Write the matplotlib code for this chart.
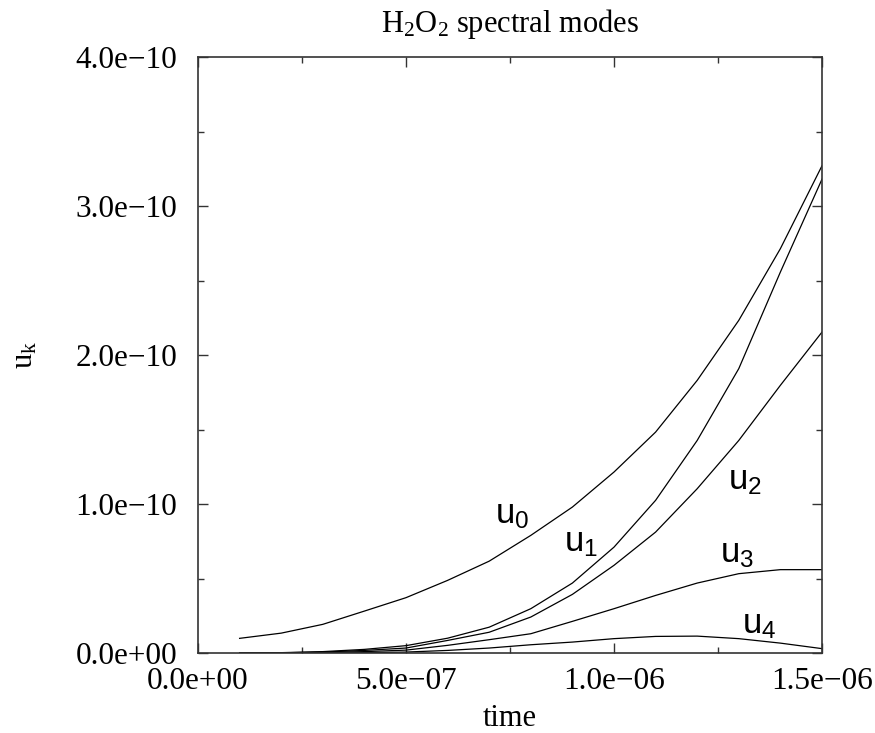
import numpy as np
import matplotlib
matplotlib.use("Agg")
import matplotlib.pyplot as plt
from matplotlib.ticker import FixedLocator, FuncFormatter

# ---------------- data ----------------
time = np.array([1, 2, 3, 4, 5, 6, 7, 8, 9, 10, 11, 12, 13, 14, 15]) * 1e-7

u0 = np.array([0.099, 0.134, 0.193, 0.282, 0.372, 0.488, 0.617, 0.79, 0.98,
               1.215, 1.483, 1.83, 2.233, 2.714, 3.27]) * 1e-10
u1 = np.array([0.0, 0.003, 0.010, 0.025, 0.050, 0.100, 0.174, 0.298, 0.47,
               0.711, 1.025, 1.427, 1.909, 2.557, 3.18]) * 1e-10
u2 = np.array([0.0, 0.002, 0.007, 0.018, 0.034, 0.085, 0.140, 0.242, 0.394,
               0.589, 0.812, 1.103, 1.427, 1.797, 2.154]) * 1e-10
u3 = np.array([0.0, 0.001, 0.004, 0.010, 0.020, 0.052, 0.090, 0.130, 0.213,
               0.298, 0.387, 0.470, 0.533, 0.560, 0.560]) * 1e-10
u4 = np.array([0.0, 0.0, 0.001, 0.003, 0.007, 0.018, 0.034, 0.056, 0.074,
               0.097, 0.112, 0.114, 0.097, 0.067, 0.030]) * 1e-10

series = [u0, u1, u2, u3, u4]
label_names = ["u_0", "u_1", "u_2", "u_3", "u_4"]
label_x = np.array([7.55, 9.2, 13.15, 12.95, 13.5]) * 1e-7
label_y = np.array([0.93, 0.74, 1.16, 0.67, 0.19]) * 1e-10

xticks = [0.0, 5e-7, 1e-6, 1.5e-6]
xminor = [2.5e-7, 7.5e-7, 1.25e-6]
yticks = [0.0, 1e-10, 2e-10, 3e-10, 4e-10]
yminor = [0.5e-10, 1.5e-10, 2.5e-10, 3.5e-10]

title = r"H$\mathregular{_2}$O$\mathregular{_2}$ spectral modes"

# ---------------- plotting ----------------
serif = ["Liberation Serif", "DejaVu Serif"]
sans = ["Liberation Sans", "DejaVu Sans"]

fig = plt.figure(figsize=(8.75, 7.33), dpi=100)
ax = fig.add_axes([0.2263, 0.109, 0.7131, 0.8132])

for s in series:
    ax.plot(time, s, color="black", lw=0.9)

for name, lx, ly in zip(label_names, label_x, label_y):
    ax.text(lx, ly, r"$\mathregular{" + name + "}$", family=sans, fontsize=25,
            ha="center", va="center")

ax.set_xlim(0, 1.5e-6)
ax.set_ylim(0, 4e-10)
ax.xaxis.set_major_locator(FixedLocator(xticks))
ax.xaxis.set_minor_locator(FixedLocator(xminor))
ax.yaxis.set_major_locator(FixedLocator(yticks))
ax.yaxis.set_minor_locator(FixedLocator(yminor))

fmt = FuncFormatter(lambda v, p: f"{v:.1e}".replace("-", "\u2212"))
ax.xaxis.set_major_formatter(fmt)
ax.yaxis.set_major_formatter(fmt)

ax.tick_params(which="both", direction="in", top=True, right=True, width=1.0,
               color="#333333")
ax.tick_params(which="major", length=7.5, labelsize=22.5)
ax.tick_params(axis="y", which="major", pad=15)
ax.tick_params(axis="x", which="major", pad=10)
ax.tick_params(which="minor", length=4)
for lab in ax.get_xticklabels() + ax.get_yticklabels():
    lab.set_family(serif)

for sp in ax.spines.values():
    sp.set_linewidth(1.2)
    sp.set_color("#333333")

ax.set_xlabel("time", family=serif, fontsize=22, labelpad=6)
ax.set_ylabel(r"$\mathregular{u_k}$", family=serif, fontsize=22, labelpad=26)
ax.set_title(title, family=serif, fontsize=22, pad=18)

fig.savefig("out.png", dpi=100)
